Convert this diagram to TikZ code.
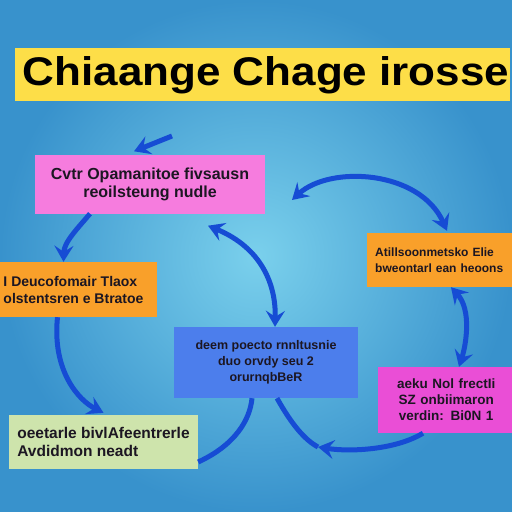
\documentclass[tikz,border=0pt]{standalone}
\usepackage{fontspec}
\setmainfont{Liberation Sans}
\usetikzlibrary{arrows.meta}
\definecolor{bgin}{RGB}{122,208,236}
\definecolor{bgout}{RGB}{56,146,204}
\definecolor{yellowbar}{RGB}{253,222,72}
\definecolor{pinkA}{RGB}{246,124,222}
\definecolor{pinkB}{RGB}{234,78,214}
\definecolor{orangebox}{RGB}{249,160,42}
\definecolor{bluebox}{RGB}{76,126,236}
\definecolor{greenbox}{RGB}{206,228,172}
\definecolor{arrowblue}{RGB}{22,76,212}
\definecolor{txt}{RGB}{28,22,34}
\tikzset{
  card/.style={inner sep=4pt,text=txt,font=\bfseries\fontsize{14}{17}\selectfont},
  flow/.style={draw=arrowblue,line width=5pt}
}
\begin{document}
\begin{tikzpicture}[x=1pt,y=-1pt,>={Stealth[length=16pt,width=19pt,inset=6pt]}]
   \useasboundingbox (0,0) rectangle (512,512);
   \shade [inner color=bgin,outer color=bgout] (0,0) rectangle (512,512);
   \fill [yellowbar] (15,48) rectangle (510,101);
   \node (title) at (266,75) {\scalebox{1.1}[1]{\bfseries\fontsize{40}{44}\selectfont Chiaange Chage irosse}};
   % boxes
   \node [card,fill=pinkA,minimum width=230pt,minimum height=59pt,align=center,
          font=\bfseries\fontsize{16}{18}\selectfont] (pk) at (150,184)
       {Cvtr Opamanitoe fivsausn\\reoilsteung nudle};
   \node [card,fill=orangebox,minimum width=167pt,minimum height=55pt,align=left] (orL) at (73.5,289.5)
       {I Deucofomair Tlaox\\olstentsren e Btratoe};
   \node [card,fill=orangebox,anchor=west,minimum height=54pt,align=left,
          text width=131pt,inner xsep=8pt,font=\bfseries\fontsize{12}{16}\selectfont] (orR) at (367,260)
       {Atillsoonmetsko Elie\\bweontarl ean heoons};
   \node [card,fill=bluebox,minimum width=184pt,minimum height=71pt,align=center,
          font=\bfseries\fontsize{12.5}{16}\selectfont] (bl) at (266,362.5)
       {deem poecto rnnltusnie\\duo orvdy seu 2\\orurnqbBeR};
   \node [card,fill=pinkB,anchor=west,minimum height=66pt,align=center,
          text width=128pt,inner xsep=4pt,font=\bfseries\fontsize{13.5}{16}\selectfont] (mg) at (378,400)
       {aeku Nol frectIi\\SZ onbiimaron\\verdin: Bi0N 1};
   \node [card,fill=greenbox,minimum width=189pt,minimum height=54pt,align=left,
          font=\bfseries\fontsize{15.5}{18}\selectfont] (gr) at (103.5,442)
       {oeetarle bivlAfeentrerle\\Avdidmon neadt};
   % loose ends
   \coordinate (a0) at (172,136);
   \coordinate (g0) at (292,200);
   \coordinate (e1) at (318,447);
   % connectors
   \draw [flow,->] (a0) -- ([xshift=-16pt,yshift=3pt]pk.north);
   \draw [flow,->] ([xshift=-60pt]pk.south) .. controls (78,228) and (64,242) .. ([xshift=-10pt]orL.north);
   \draw [flow,->] ([xshift=-16pt]orL.south) .. controls (52,370) and (78,400) .. ([yshift=2pt]gr.north);
   \draw [flow] ([yshift=-20pt]gr.east) .. controls (235,445) and (250,420) .. ([xshift=-14pt]bl.south);
   \draw [flow] ([xshift=11pt]bl.south) .. controls (292,425) and (305,440) .. (e1);
   \draw [flow,->] ([xshift=45pt]mg.south west) .. controls (395,450) and (350,452) .. (e1);
   \draw [flow,<->] ([xshift=58pt,yshift=-12pt]pk.south) .. controls (262,248) and (276,285) .. ([xshift=9pt]bl.north);
   \draw [flow,<->] (g0) .. controls (330,165) and (420,170) .. ([xshift=80pt,yshift=2pt]orR.north west);
   \draw [flow,<->] ([xshift=84pt]orR.south west) .. controls (472,310) and (466,345) .. ([xshift=81pt]mg.north west);
\end{tikzpicture}
\end{document}
